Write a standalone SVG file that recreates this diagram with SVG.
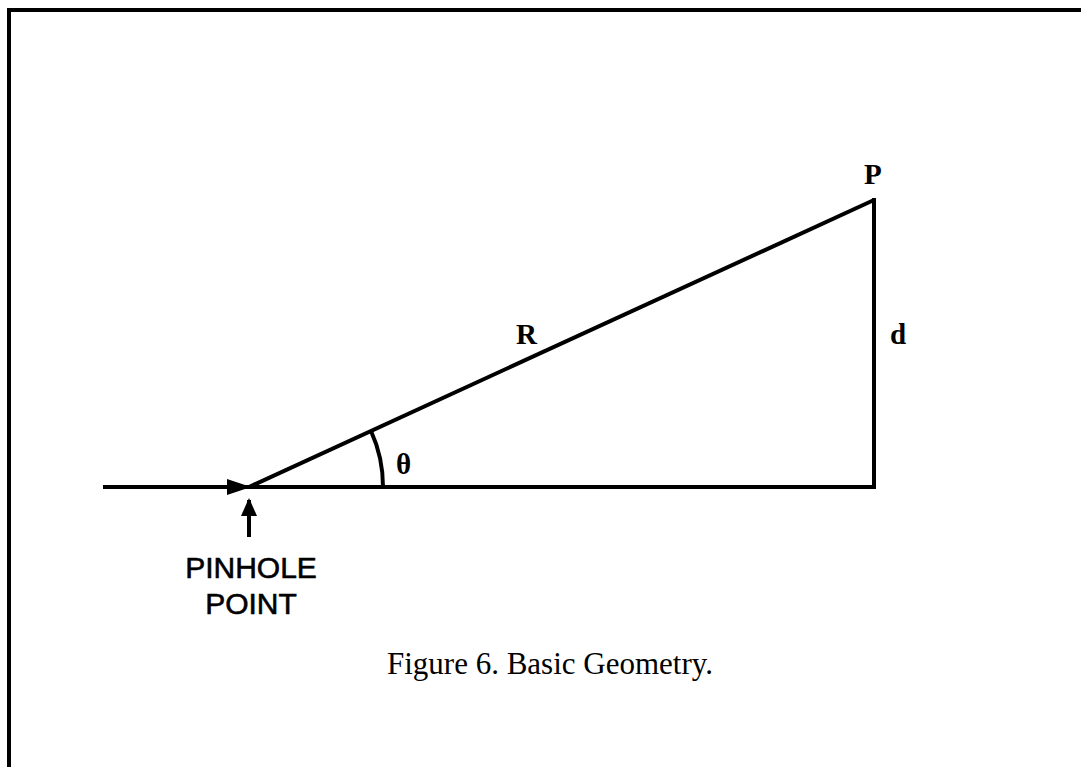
<svg xmlns="http://www.w3.org/2000/svg" width="1081" height="767" viewBox="0 0 1081 767">
<style>
.ln{stroke:#000;stroke-width:4;fill:none}
.lbl{font-family:"Liberation Serif",serif;font-weight:bold;font-size:29px;fill:#000}
.sans{font-family:"Liberation Sans",Arial,sans-serif;font-size:30px;fill:#000;stroke:#000;stroke-width:0.6;text-anchor:middle}
.cap{font-family:"Liberation Serif",serif;font-size:31px;fill:#000;text-anchor:middle}
</style>
<defs>
<marker id="ah" markerWidth="24" markerHeight="16" refX="22" refY="8" orient="auto" markerUnits="userSpaceOnUse">
<path d="M0,0 L24,8 L0,16 Z" fill="#000"/>
</marker>
<marker id="up" markerWidth="18" markerHeight="16" refX="16" refY="8" orient="auto" markerUnits="userSpaceOnUse">
<path d="M0,0 L18,8 L0,16 Z" fill="#000"/>
</marker>
</defs>
<rect width="1081" height="767" fill="#fff"/>
<g id="frame">
<path d="M9,767 V10 H1081" stroke="#000" stroke-width="4" fill="none"/>
</g>
<g id="connectors">
<line class="ln" x1="103" y1="487" x2="249" y2="487" marker-end="url(#ah)"/>
<line class="ln" x1="249" y1="487" x2="876" y2="487"/>
<line class="ln" x1="249" y1="487" x2="874" y2="200"/>
<line class="ln" x1="874" y1="198" x2="874" y2="489"/>
<path class="ln" d="M371,431 A134,134 0 0 1 383,487"/>
<line class="ln" x1="249" y1="537" x2="249" y2="500" marker-end="url(#up)"/>
</g>
<g id="labels">
<text class="lbl" x="864" y="184">P</text>
<text class="lbl" x="516" y="344">R</text>
<text class="lbl" x="890" y="344">d</text>
<text class="lbl" x="396" y="474">θ</text>
</g>
<g id="pinhole">
<text class="sans" x="251" y="578">PINHOLE</text>
<text class="sans" x="251" y="614">POINT</text>
</g>
<g id="caption">
<text class="cap" x="550" y="674">Figure 6. Basic Geometry.</text>
</g>
</svg>
